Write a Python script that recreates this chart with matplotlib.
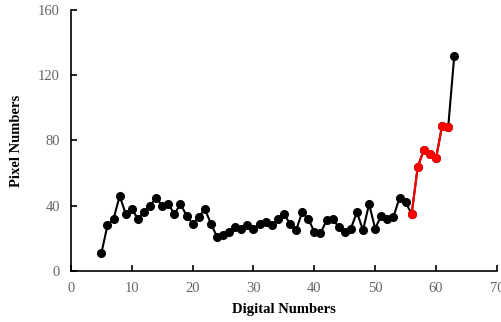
import matplotlib
matplotlib.use("Agg")
import matplotlib.pyplot as plt

digital = list(range(5, 64))
pixels = [11, 28, 32, 46, 35, 38, 32, 36, 40, 45,
          40, 41, 35, 41, 34, 29, 33, 38, 29, 21,
          22, 24, 27, 26, 28, 26, 29, 30, 28, 32,
          35, 29, 25, 36, 32, 24, 23, 31, 32, 27,
          24, 26, 36, 25, 41, 26, 34, 32, 33, 45,
          42, 35, 64, 74, 72, 69, 89, 88, 132]

# highlighted stretch (red)
red_start, red_end = 56, 62
red_x = [d for d in digital if red_start <= d <= red_end]
red_y = [p for d, p in zip(digital, pixels) if red_start <= d <= red_end]

plt.rcParams['font.family'] = ['Liberation Serif', 'DejaVu Serif']

fig = plt.figure(figsize=(5.01, 3.22), dpi=100)
ax = fig.add_axes([0.1417, 0.1584, 0.85, 0.8106])

ax.plot(digital, pixels, color='black', lw=1.5, marker='o', ms=5.5)
ax.plot(red_x, red_y, color='red', lw=1.5, marker='o', ms=5.5)

ax.set_xlim(0, 70)
ax.set_ylim(0, 160)
ax.set_xticks(range(0, 71, 10))
ax.set_yticks(range(0, 161, 40))

for s in ['top', 'right']:
    ax.spines[s].set_visible(False)
for s in ['left', 'bottom']:
    ax.spines[s].set_linewidth(1.2)

ax.tick_params(direction='in', length=4, width=1.2, labelsize=10.5,
               labelcolor='#666666', pad=8)
ax.set_xlabel('Digital Numbers', fontsize=10.5, fontweight='bold', labelpad=6)
ax.set_ylabel('Pixel Numbers', fontsize=10.5, fontweight='bold', labelpad=11)

fig.savefig('out.png', dpi=100)
